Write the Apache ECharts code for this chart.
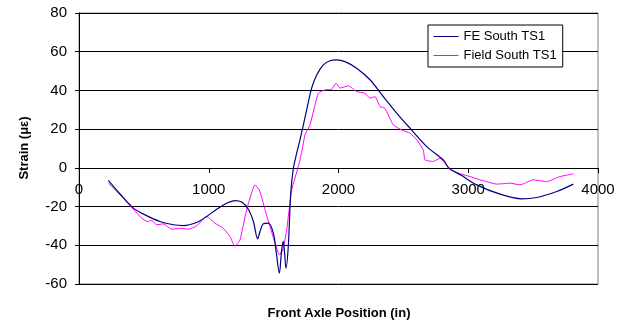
<!DOCTYPE html>
<html>
<head>
<meta charset="utf-8">
<script src="https://cdn.jsdelivr.net/npm/echarts@6/dist/echarts.min.js"></script>
<style>html,body{margin:0;padding:0;background:#fff;}#c{width:629px;height:327px;}</style>
</head>
<body>
<div id="c"></div>
<script>
const seriesNames = ['FE South TS1', 'Field South TS1'];
const xTicks = [0, 1000, 2000, 3000, 4000];
const yTicks = [-60, -40, -20, 0, 20, 40, 60, 80];

const feX = [226, 316, 419, 509, 624, 727, 804, 907, 984, 1061, 1138, 1202, 1254, 1305, 1344, 1377, 1395, 1421, 1459, 1498, 1518, 1544, 1562, 1575, 1595, 1613, 1632, 1652, 1678, 1703, 1755, 1793, 1832, 1883, 1934, 1986, 2050, 2140, 2243, 2345, 2448, 2551, 2680, 2808, 2850, 2950, 3065, 3245, 3412, 3527, 3682, 3810];
const feY = [-6.5, -13.5, -20.8, -24.3, -27.7, -29.4, -29.8, -28.2, -25.1, -21.4, -18.3, -16.9, -17.7, -21.4, -27.7, -36.7, -32.9, -28.9, -28.6, -33.7, -42.4, -54.4, -42.4, -38, -51.8, -40.6, -13, -0.2, 7.6, 14.5, 30, 41.2, 48, 53.2, 55.3, 55.8, 54.9, 51.5, 45.5, 36.8, 28.3, 20.5, 11, 4.1, 0, -4, -8.8, -13.6, -16, -15.3, -12.2, -8.4];

const fieldX = [226, 316, 419, 483, 527, 560, 599, 650, 714, 778, 843, 907, 984, 1048, 1112, 1164, 1202, 1241, 1292, 1356, 1390, 1434, 1472, 1511, 1544, 1571, 1601, 1639, 1690, 1716, 1742, 1780, 1819, 1845, 1896, 1948, 1981, 2012, 2076, 2140, 2204, 2243, 2281, 2320, 2358, 2422, 2487, 2551, 2603, 2653, 2667, 2730, 2782, 2860, 2921, 3014, 3090, 3142, 3219, 3322, 3399, 3501, 3604, 3707, 3810];
const fieldY = [-7.9, -13.9, -21.4, -26, -27.7, -27.2, -29.4, -28.9, -31.7, -31.2, -31.7, -30, -25.1, -28.6, -31.2, -35.5, -40.6, -37.2, -21.7, -8.8, -11.4, -21.7, -30.3, -38.9, -44.9, -42.4, -32, -11.4, 0.7, 8, 17, 22.2, 32.5, 38.6, 40.3, 40.6, 43.7, 41.2, 42.4, 39.4, 38.6, 36, 36.8, 31.7, 30.8, 22.2, 19.6, 17.9, 14.5, 9.3, 4.1, 3.3, 5, -1, -2.7, -4.5, -6.2, -7.1, -8.4, -7.9, -8.8, -6.2, -7.1, -4.5, -3.1];

const pair = (xs, ys) => xs.map((x, i) => [x, ys[i]]);

const chart = echarts.init(document.getElementById('c'));
const FONT = '"Liberation Sans", Arial, sans-serif';
chart.setOption({
  animation: false,
  backgroundColor: '#fff',
  textStyle: { fontFamily: FONT },
  grid: { left: 79, right: 31, top: 13, bottom: 43, show: true, borderColor: '#808080', borderWidth: 1, backgroundColor: 'transparent' },
  legend: {
    orient: 'vertical', left: 428, top: 25,
    data: seriesNames,
    itemWidth: 25, itemHeight: 14, itemGap: 6,
    padding: [5, 6, 5, 5],
    borderColor: '#000', borderWidth: 1, backgroundColor: '#fff',
    itemStyle: { opacity: 0, borderWidth: 0 },
    lineStyle: { width: 1 },
    textStyle: { fontFamily: FONT, fontSize: 13, color: '#000' }
  },
  xAxis: {
    type: 'value', min: xTicks[0], max: xTicks[xTicks.length - 1], interval: 1000,
    offset: -116,
    axisLine: { onZero: false, lineStyle: { color: '#000', width: 1 } },
    axisTick: { show: true, length: 5, lineStyle: { color: '#000' } },
    axisLabel: { fontFamily: FONT, fontSize: 15, color: '#000', margin: 14, formatter: v => String(v) },
    splitLine: { show: false }
  },
  yAxis: {
    type: 'value', min: yTicks[0], max: yTicks[yTicks.length - 1], interval: 20,
    axisLine: { show: true, onZero: false, lineStyle: { color: '#000', width: 1 } },
    axisTick: { show: true, length: 4, lineStyle: { color: '#000' } },
    axisLabel: { fontFamily: FONT, fontSize: 15, color: '#000', margin: 12, formatter: v => String(v) },
    splitLine: { show: true, lineStyle: { color: '#000', width: 1 } }
  },
  graphic: [
    { type: 'text', position: [339, 313], style: { text: 'Front Axle Position (in)', font: 'bold 13px ' + FONT, fill: '#000', textAlign: 'center', textVerticalAlign: 'middle' } },
    { type: 'text', position: [24, 148], rotation: Math.PI / 2, style: { text: 'Strain (\u03bc\u03b5)', font: 'bold 13px ' + FONT, fill: '#000', textAlign: 'center', textVerticalAlign: 'middle' } }
  ],
  series: [
    { name: seriesNames[0], type: 'line', data: pair(feX, feY), symbol: 'none', smooth: 0.3, lineStyle: { color: '#000080', width: 1.2 }, itemStyle: { color: '#000080' }, z: 3 },
    { name: seriesNames[1], type: 'line', data: pair(fieldX, fieldY), symbol: 'none', smooth: 0.15, lineStyle: { color: '#FF00FF', width: 1 }, itemStyle: { color: '#FF00FF' }, z: 2 }
  ]
});
</script>
</body>
</html>
